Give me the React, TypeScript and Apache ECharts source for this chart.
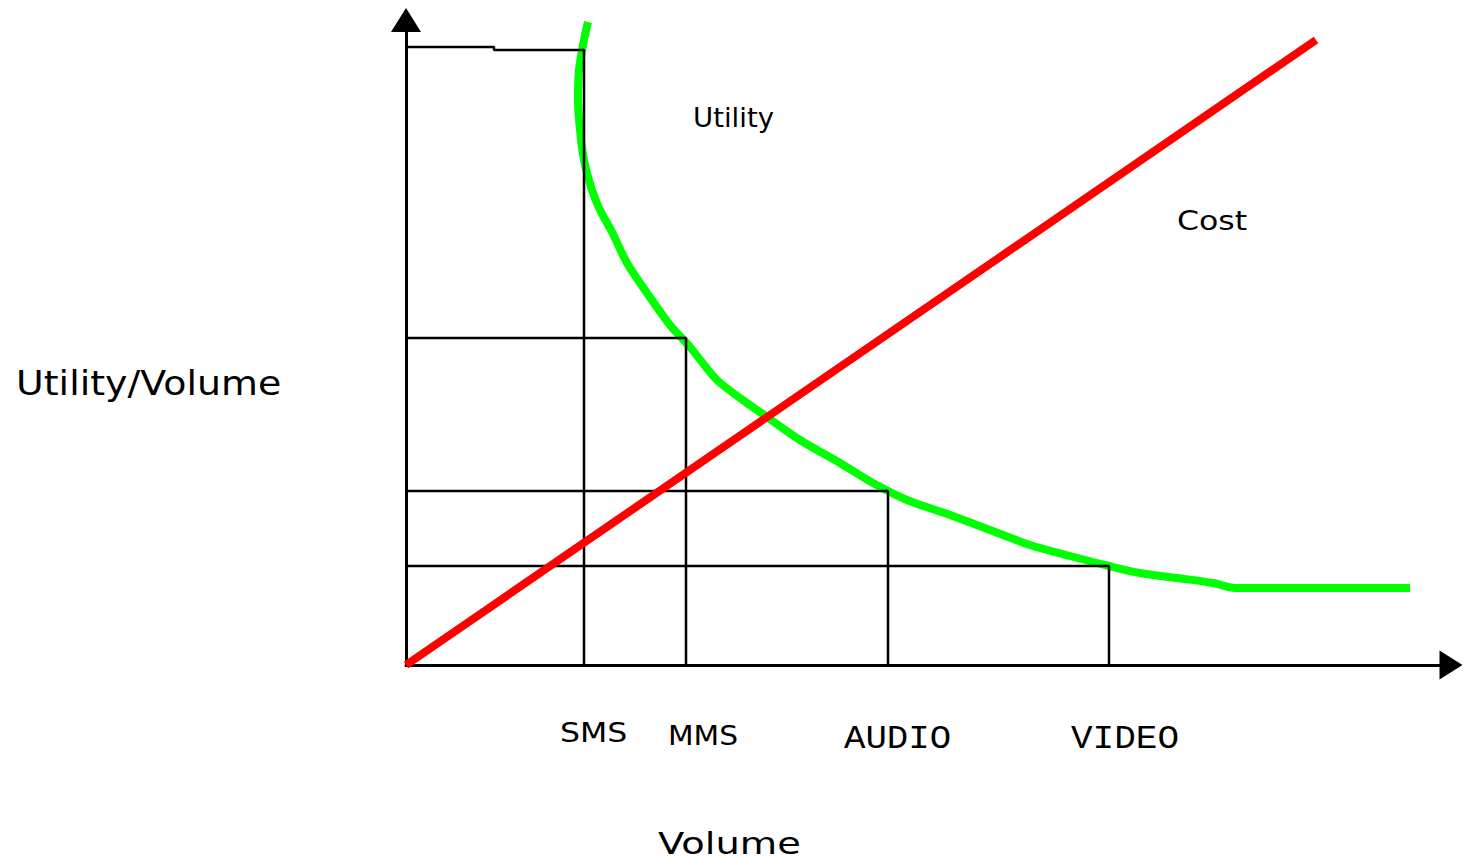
import React, { useEffect, useRef } from "react";
import * as echarts from "echarts";

// Values in chart units (origin at the axes' crossing)
const costLine: [number, number][] = [
  [0, 0],
  [910, 625],
];

const utilityCurve: [number, number][] = [
  [182, 643], [178, 625], [173, 595], [172, 565], [174, 535], [178, 505],
  [186, 475], [194, 455], [206, 433], [221, 402], [241, 372], [264, 340],
  [284, 318], [311, 285], [341, 262], [361, 248], [394, 225], [434, 202],
  [467, 182], [501, 165], [544, 150], [584, 135], [624, 120], [664, 109],
  [703, 99], [734, 92], [771, 87], [807, 82], [829, 77], [1004, 77],
];

const categories = ["SMS", "MMS", "AUDIO", "VIDEO"];
const categoryX = [178, 280, 482, 703];
const categoryY = [615, 327, 174, 99];

const X_MAX = 1045;
const Y_MAX = 645;

function dropLine(i: number): [number, number][] {
  if (i === 0) {
    return [
      [0, 618],
      [88, 618],
      [88, categoryY[0]],
      [categoryX[0], categoryY[0]],
      [categoryX[0], 0],
    ];
  }
  return [
    [0, categoryY[i]],
    [categoryX[i], categoryY[i]],
    [categoryX[i], 0],
  ];
}

type Lbl = { text: string; x: number; y: number; fs: number; sx: number; font: string };
const labels: Lbl[] = [
  { text: "Utility", x: 693, y: 118, fs: 27, sx: 1.02, font: "DejaVu Sans" },
  { text: "Cost", x: 1177, y: 221, fs: 27, sx: 1.17, font: "DejaVu Sans" },
  { text: "Utility/Volume", x: 16, y: 383, fs: 34, sx: 1.115, font: "DejaVu Sans" },
  { text: "Volume", x: 658, y: 844, fs: 30, sx: 1.28, font: "DejaVu Sans" },
  { text: "SMS", x: 560, y: 733, fs: 27, sx: 1.17, font: "DejaVu Sans" },
  { text: "MMS", x: 668, y: 736, fs: 27, sx: 1.1, font: "DejaVu Sans" },
  { text: "AUDIO", x: 844, y: 739, fs: 34, sx: 1.05, font: "Liberation Mono" },
  { text: "VIDEO", x: 1071, y: 739, fs: 34, sx: 1.06, font: "Liberation Mono" },
];

export default function App() {
  const ref = useRef<HTMLDivElement>(null);
  useEffect(() => {
    if (!ref.current) return;
    const chart = echarts.init(ref.current, undefined, { renderer: "svg" });
    const axisCommon = {
      type: "value" as const,
      axisTick: { show: false },
      axisLabel: { show: false },
      splitLine: { show: false },
    };
    chart.setOption({
      animation: false,
      backgroundColor: "#ffffff",
      grid: { left: 406, top: 20, width: X_MAX, height: Y_MAX, containLabel: false },
      xAxis: {
        ...axisCommon,
        min: 0,
        max: X_MAX,
        axisLine: {
          show: true,
          symbol: ["none", "triangle"],
          symbolSize: [29, 23],
          lineStyle: { color: "#000", width: 3 },
        },
      },
      yAxis: {
        ...axisCommon,
        min: 0,
        max: Y_MAX,
        axisLine: {
          show: true,
          symbol: ["none", "triangle"],
          symbolSize: [30, 24],
          lineStyle: { color: "#000", width: 3 },
        },
      },
      series: [
        {
          name: "Utility",
          type: "line",
          data: utilityCurve,
          smooth: 0.3,
          symbol: "none",
          lineStyle: { color: "#00ff00", width: 8 },
          z: 2,
        },
        ...categories.map((c, i) => ({
          name: c,
          type: "line",
          data: dropLine(i),
          symbol: "none",
          lineStyle: { color: "#000", width: 2.5 },
          z: 3,
        })),
        {
          name: "Cost",
          type: "line",
          data: costLine,
          symbol: "none",
          lineStyle: { color: "#ff0000", width: 8 },
          z: 4,
        },
      ],
      graphic: labels.map((l) => ({
        type: "text",
        x: l.x,
        y: l.y,
        scaleX: l.sx,
        style: {
          text: l.text,
          fontSize: l.fs,
          fontFamily: l.font,
          fill: "#000",
          align: "left",
          verticalAlign: "middle",
        },
        z: 10,
      })),
    });
    return () => chart.dispose();
  }, []);
  return (
    <div
      ref={ref}
      style={{ position: "absolute", left: 0, top: 0, width: 1464, height: 862 }}
    />
  );
}
